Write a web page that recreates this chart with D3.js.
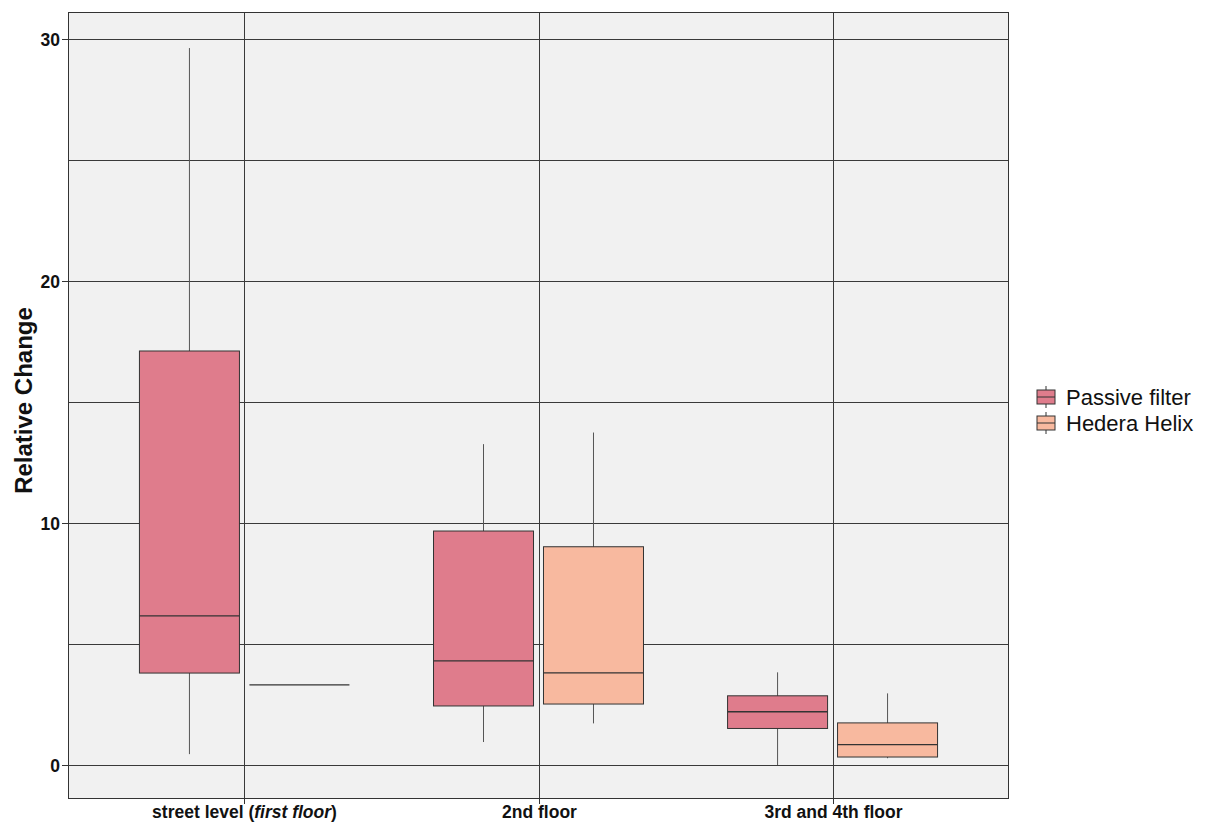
<!DOCTYPE html>
<html><head><meta charset="utf-8">
<script src="https://cdn.jsdelivr.net/npm/d3@7"></script>
<style>body{margin:0;background:#fff}</style>
</head><body>
<svg id="chart" width="1208" height="823"></svg>
<script>
const categories = ["street level", "2nd floor", "3rd and 4th floor"];
const seriesNames = ["Passive filter", "Hedera Helix"];
const seriesColors = ["#DF7C8C", "#F8B99F"];
// [whiskerLow, Q1, median, Q3, whiskerHigh] per category
const passiveFilter = [
  [0.45, 3.80, 6.16, 17.11, 29.63],
  [0.95, 2.44, 4.30, 9.67, 13.26],
  [0.00, 1.51, 2.20, 2.86, 3.83]
];
const hederaHelix = [
  [3.31, 3.31, 3.31, 3.31, 3.31],
  [1.72, 2.52, 3.81, 9.02, 13.74],
  [0.28, 0.33, 0.84, 1.74, 2.96]
];
const yTicks = [0, 10, 20, 30];
const yGrid = [0, 5, 10, 15, 20, 25, 30];

const svg = d3.select("#chart");
const P = {l: 68, r: 1009, t: 12, b: 799};
const FONT = "Liberation Sans, Arial, Helvetica, sans-serif";

// discrete positions with ggplot-like expansion (0.6 units on each side)
const x = d3.scalePoint().domain(categories).range([0, 2]);
const unit = (P.r - P.l) / 3.2;
const cx = c => P.l + (0.6 + x(c)) * unit;
const y = d3.scaleLinear().domain([-1.405, 31.12]).range([P.b, P.t]);

svg.append("rect").attr("x", P.l).attr("y", P.t).attr("width", P.r - P.l).attr("height", P.b - P.t)
  .attr("fill", "#F1F1F1");

const grid = svg.append("g").attr("stroke", "#3a3a3a").attr("stroke-width", 1);
yGrid.forEach(v => grid.append("line").attr("x1", P.l).attr("x2", P.r)
  .attr("y1", Math.round(y(v)) + 0.5).attr("y2", Math.round(y(v)) + 0.5));
categories.forEach(c => grid.append("line").attr("y1", P.t).attr("y2", P.b)
  .attr("x1", Math.round(cx(c)) + 0.5).attr("x2", Math.round(cx(c)) + 0.5));

const offset = 0.187 * unit;
const boxW = 100;
[passiveFilter, hederaHelix].forEach((series, si) => {
  series.forEach((d, ci) => {
    const center = cx(categories[ci]) + (si === 0 ? -offset : offset);
    const g = svg.append("g");
    g.append("line").attr("x1", center).attr("x2", center)
      .attr("y1", y(d[4])).attr("y2", y(d[0])).attr("stroke", "#555").attr("stroke-width", 1);
    g.append("rect").attr("x", center - boxW / 2).attr("width", boxW)
      .attr("y", y(d[3])).attr("height", Math.max(0, y(d[1]) - y(d[3])))
      .attr("fill", seriesColors[si]).attr("stroke", "#333").attr("stroke-width", 1);
    g.append("line").attr("x1", center - boxW / 2).attr("x2", center + boxW / 2)
      .attr("y1", y(d[2])).attr("y2", y(d[2])).attr("stroke", "#333").attr("stroke-width", 1.3);
  });
});

svg.append("rect").attr("x", P.l + 0.5).attr("y", P.t + 0.5).attr("width", P.r - P.l - 1).attr("height", P.b - P.t - 1)
  .attr("fill", "none").attr("stroke", "#333").attr("stroke-width", 1);

// y axis
const yAxis = svg.append("g");
yTicks.forEach(v => {
  const yy = Math.round(y(v)) + 0.5;
  yAxis.append("line").attr("x1", P.l - 6).attr("x2", P.l).attr("y1", yy).attr("y2", yy).attr("stroke", "#333");
  yAxis.append("text").attr("x", P.l - 8).attr("y", yy).attr("dy", "0.36em").attr("text-anchor", "end")
    .attr("font-family", FONT).attr("font-weight", "bold").attr("font-size", 17.5)
    .attr("fill", "#111").text(v);
});
// x axis
categories.forEach((c, i) => {
  const xx = Math.round(cx(c)) + 0.5;
  svg.append("line").attr("x1", xx).attr("x2", xx).attr("y1", P.b).attr("y2", P.b + 5).attr("stroke", "#333");
  const t = svg.append("text").attr("x", xx).attr("y", P.b + 19).attr("text-anchor", "middle")
    .attr("font-family", FONT).attr("font-weight", "bold").attr("font-size", 17.5)
    .attr("fill", "#111");
  if (i === 0) {
    t.append("tspan").text("street level (");
    t.append("tspan").attr("font-style", "italic").text("first floor");
    t.append("tspan").text(")");
  } else t.text(c);
});
svg.append("text").attr("transform", `translate(32,${(P.t + P.b) / 2 - 5}) rotate(-90)`)
  .attr("text-anchor", "middle").attr("font-family", FONT)
  .attr("font-weight", "bold").attr("font-size", 24).attr("fill", "#111").text("Relative Change");

// legend
const leg = svg.append("g");
seriesNames.forEach((n, i) => {
  const ly = 397 + i * 26;
  const lx = 1046;
  leg.append("line").attr("x1", lx).attr("x2", lx).attr("y1", ly - 11).attr("y2", ly + 11).attr("stroke", "#333");
  leg.append("rect").attr("x", lx - 9).attr("y", ly - 7).attr("width", 18).attr("height", 14)
    .attr("fill", seriesColors[i]).attr("stroke", "#333").attr("stroke-width", 1);
  leg.append("line").attr("x1", lx - 9).attr("x2", lx + 9).attr("y1", ly).attr("y2", ly).attr("stroke", "#333");
  leg.append("text").attr("x", 1066).attr("y", ly).attr("dy", "0.35em")
    .attr("font-family", FONT).attr("font-size", 22).attr("fill", "#111").text(n);
});
</script>
</body></html>
